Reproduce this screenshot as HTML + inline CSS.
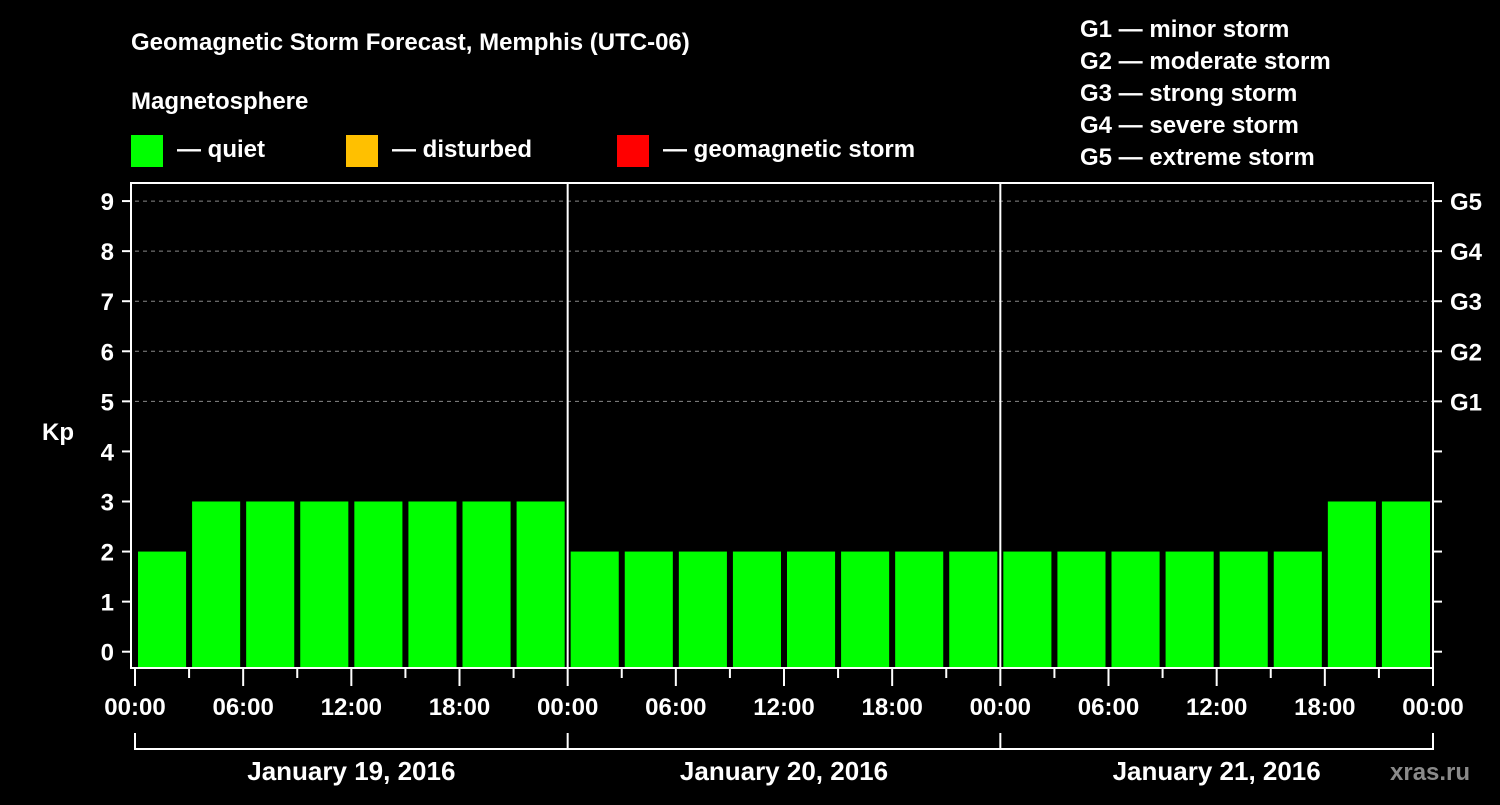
<!DOCTYPE html>
<html><head><meta charset="utf-8"><style>
body{margin:0;background:#000;width:1500px;height:800px;overflow:hidden}
svg text{font-family:"Liberation Sans",sans-serif;font-weight:bold;fill:#fff}
</style></head><body>
<svg id="c" width="1500" height="800">
<text x="131" y="50" font-size="24">Geomagnetic Storm Forecast, Memphis (UTC-06)</text>
<text x="131" y="109" font-size="24">Magnetosphere</text>
<rect x="131" y="135" width="32" height="32" fill="#00ff00"/>
<text x="177" y="157" font-size="24">— quiet</text>
<rect x="346" y="135" width="32" height="32" fill="#ffc000"/>
<text x="392" y="157" font-size="24">— disturbed</text>
<rect x="617" y="135" width="32" height="32" fill="#ff0000"/>
<text x="663" y="157" font-size="24">— geomagnetic storm</text>
<g font-size="24">
<text x="1080" y="37">G1 — minor storm</text>
<text x="1080" y="69">G2 — moderate storm</text>
<text x="1080" y="101">G3 — strong storm</text>
<text x="1080" y="133">G4 — severe storm</text>
<text x="1080" y="165">G5 — extreme storm</text>
</g>
<text x="42" y="440" font-size="24">Kp</text>
<text x="1390" y="780" font-size="24" fill="#888" style="fill:#8a8a8a">xras.ru</text>
<g id="plot"></g>
</svg>
<script>
const values=[2,3,3,3,3,3,3,3,2,2,2,2,2,2,2,2,2,2,2,2,2,2,3,3];
const dayLabels=["January 19, 2016","January 20, 2016","January 21, 2016"];
const hourLabels=["00:00","06:00","12:00","18:00"];
const gLabels=["G1","G2","G3","G4","G5"];
const NS="http://www.w3.org/2000/svg";
const g=document.getElementById('plot');
const X0=135,X1=1433,TOP=183,BOT=668;
const slot=(X1-X0)/values.length;
const y=v=>651.7-v*50.07;
const x=i=>X0+i*slot;
function mk(t,a){const e=document.createElementNS(NS,t);for(const k in a)e.setAttribute(k,a[k]);g.appendChild(e);return e;}
// grid
for(let v=5;v<=9;v++){const l=mk('line',{x1:X0,x2:X1,y1:y(v),y2:y(v),stroke:'#888','stroke-dasharray':'4,4','stroke-width':1});

}
// bars
values.forEach((v,i)=>{const c=v>=5?'#ff0000':(v>=4?'#ffc000':'#00ff00');
const r=mk('rect',{x:x(i)+3,y:y(v),width:slot-6,height:BOT-1-y(v),fill:c});

});
// frame
const f=mk('rect',{x:131,y:TOP,width:X1-131,height:BOT-TOP,fill:'none',stroke:'#fff','stroke-width':2});


// day separators
for(let d=1;d<3;d++){const l=mk('line',{x1:x(d*8),x2:x(d*8),y1:TOP,y2:BOT,stroke:'#fff','stroke-width':2});

}
// y ticks
for(let v=0;v<=9;v++){
mk('line',{x1:122,x2:131,y1:y(v),y2:y(v),stroke:'#fff','stroke-width':2});
mk('line',{x1:X1,x2:1442,y1:y(v),y2:y(v),stroke:'#fff','stroke-width':2});
const t=mk('text',{x:114,y:y(v)+9,'font-size':24,'text-anchor':'end'});t.textContent=v;

}
gLabels.forEach((s,i)=>{const t=mk('text',{x:1450,y:y(5+i)+9,'font-size':24});t.textContent=s;

});
// x ticks
for(let i=0;i<=values.length;i++){const maj=i%2==0;
mk('line',{x1:x(i),x2:x(i),y1:BOT,y2:maj?686:678,stroke:'#fff','stroke-width':2});
if(maj){const t=mk('text',{x:x(i),y:715,'font-size':24,'text-anchor':'middle'});t.textContent=hourLabels[(i/2)%4];

}}
// day brackets
mk('line',{x1:X0,x2:X1,y1:749,y2:749,stroke:'#fff','stroke-width':2});
for(let d=0;d<=3;d++)mk('line',{x1:x(d*8),x2:x(d*8),y1:733,y2:750,stroke:'#fff','stroke-width':2});
dayLabels.forEach((s,d)=>{const t=mk('text',{x:(x(d*8)+x(d*8+8))/2,y:780,'font-size':26,'text-anchor':'middle'});t.textContent=s;

});
</script>
</body></html>
